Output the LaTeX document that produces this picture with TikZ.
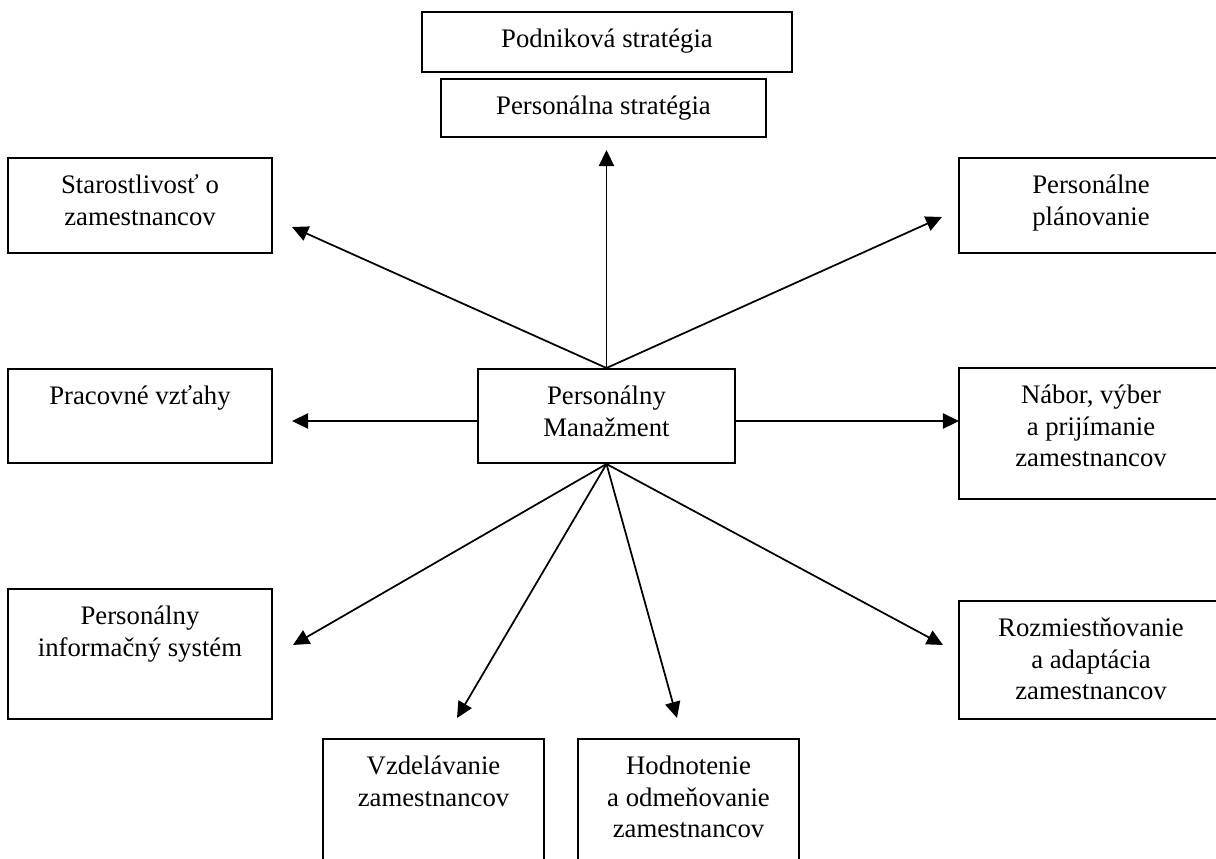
\documentclass[tikz,border=0pt]{standalone}
\usepackage{fontspec}
\setmainfont{Liberation Serif}
\usetikzlibrary{arrows.meta,fit}

\tikzset{
  box/.style={draw, line width=0.9pt, inner sep=0pt},
  lbl/.style={anchor=north, inner sep=0pt, align=center, font=\fontsize{12.3}{14.6}\selectfont},
  arr/.style={line width=0.8pt, -{Triangle[length=7.4pt,width=7pt]}}
}

\begin{document}
\begin{tikzpicture}[x=0.46pt, y=-0.46pt]
	%%%%% START %%%%%
	\clip (0,0) rectangle (1216,859);
	
	% top: strategies
	\node[box, fit={(422,12) (792,72)}] (podnik) {};
	\node[lbl] at ([yshift=-6.3pt]podnik.north) {\strut Podniková stratégia};
	\node[box, fit={(441,79) (766,137)}] (pstrat) {};
	\node[lbl] at ([yshift=-6.3pt]pstrat.north) {\strut Personálna stratégia};
	
	% centre
	\node[box, fit={(478,369) (735,463)}] (pm) {};
	\node[lbl] at ([yshift=-6.3pt]pm.north) {\strut Personálny\\Manažment};
	
	% left column
	\node[box, fit={(8,158) (272,253)}] (star) {};
	\node[lbl] at ([yshift=-6.3pt]star.north) {\strut Starostlivosť o\\zamestnancov};
	\node[box, fit={(8,369) (272,463)}] (vztah) {};
	\node[lbl] at ([yshift=-6.3pt]vztah.north) {\strut Pracovné vzťahy};
	\node[box, fit={(8,589) (272,719)}] (pis) {};
	\node[lbl] at ([yshift=-6.3pt]pis.north) {\strut Personálny\\informačný systém};
	
	% right column
	\node[box, fit={(959,158) (1223,253)}] (plan) {};
	\node[lbl] at ([yshift=-6.3pt]plan.north) {\strut Personálne\\plánovanie};
	\node[box, fit={(959,368) (1223,499)}] (nabor) {};
	\node[lbl] at ([yshift=-6.3pt]nabor.north) {\strut Nábor, výber\\a prijímanie\\zamestnancov};
	\node[box, fit={(959,601) (1223,719)}] (rozm) {};
	\node[lbl] at ([yshift=-6.3pt]rozm.north) {\strut Rozmiestňovanie\\a adaptácia\\zamestnancov};
	
	% bottom row
	\node[box, fit={(323,739) (544,880)}] (vzd) {};
	\node[lbl] at ([yshift=-6.3pt]vzd.north) {\strut Vzdelávanie\\zamestnancov};
	\node[box, fit={(578,739) (799,880)}] (hod) {};
	\node[lbl] at ([yshift=-6.3pt]hod.north) {\strut Hodnotenie\\a odmeňovanie\\zamestnancov};
	
	% arrow tips
	\coordinate (tStar) at (292,227);
	\coordinate (tStrat) at (606,150);
	\coordinate (tPlan) at (942,217);
	\coordinate (tVztah) at (292,421);
	\coordinate (tNabor) at (959,421);
	\coordinate (tPis) at (293,645);
	\coordinate (tVzd) at (457,718);
	\coordinate (tHod) at (677,718);
	\coordinate (tRozm) at (943,645);
	
	\draw[arr] (pm.north) -- (tStar);
	\draw[arr] (pm.north) -- (pm.north |- tStrat);
	\draw[arr] (pm.north) -- (tPlan);
	\draw[arr] (pm.west |- tVztah) -- (tVztah);
	\draw[arr] (pm.east |- tNabor) -- (tNabor);
	\draw[arr] (pm.south) -- (tPis);
	\draw[arr] (pm.south) -- (tVzd);
	\draw[arr] (pm.south) -- (tHod);
	\draw[arr] (pm.south) -- (tRozm);
	
	%%%%% END %%%%%
\end{tikzpicture}
\end{document}
